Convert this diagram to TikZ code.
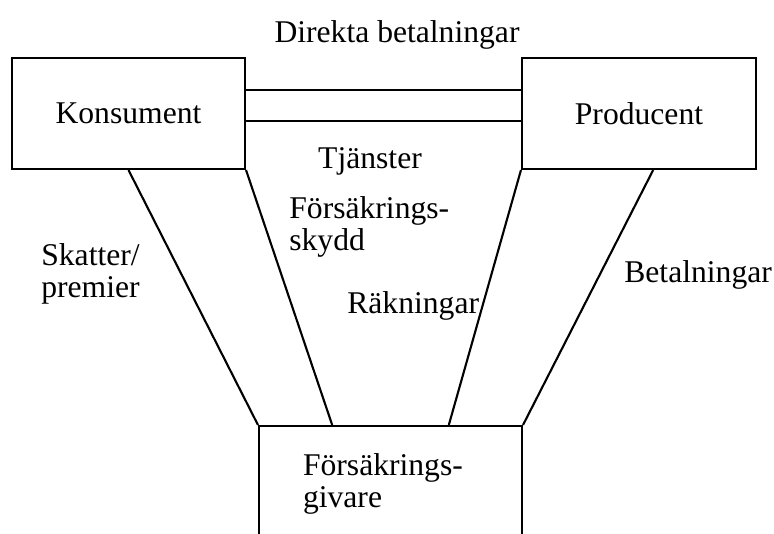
\documentclass[tikz,border=0pt]{standalone}
\usepackage{fontspec}
\setmainfont{Liberation Serif}
\usetikzlibrary{positioning,calc}

\begin{document}
\begin{tikzpicture}[
    x=0.02cm, y=-0.02cm,
    font=\fontsize{18}{17.8}\selectfont,
    box/.style={
        draw,
        line width=1.2pt,
        minimum width=4.66cm,
        minimum height=2.22cm
    },
    link/.style={line width=1.2pt},
    lbl/.style={inner sep=0pt, align=left}
]
\useasboundingbox (0,0) rectangle (774,534);

% ============================================================
% AKTORER
% ============================================================
\node[box] (kons) at (128.5,113.5) {Konsument};
\node[box, minimum width=4.68cm] (prod) at (639,113.5) {Producent};
\node[box, minimum width=5.26cm, minimum height=2.32cm,
      text width=3.5cm, align=left, inner xsep=0.87cm] (forsg) at (390.5,484)
      {Försäkrings-\\givare};

% ============================================================
% FLÖDEN
% ============================================================
\coordinate (top1) at ($(kons.north east)!0.29!(kons.south east)$);
\coordinate (top2) at ($(kons.north east)!0.57!(kons.south east)$);
\draw[link] (top1) -- (top1 -| prod.west);
\draw[link] (top2) -- (top2 -| prod.west);

\draw[link] (kons.south) -- (forsg.north west);
\draw[link] (kons.south east) -- ($(forsg.north west)!0.28!(forsg.north east)$);
\draw[link] (prod.south west) -- ($(forsg.north west)!0.72!(forsg.north east)$);
\draw[link] ($(prod.south west)!0.56!(prod.south east)$) -- (forsg.north east);

% ============================================================
% ETIKETTER (base = sista raden)
% ============================================================
\node[lbl, anchor=base] (direkt) at (397,42) {Direkta betalningar};
\node[lbl, anchor=base] (tjanst) at (370,168) {Tjänster};
\node[lbl, anchor=base west] (skydd) at (289,250) {Försäkrings-\\skydd};
\node[lbl, anchor=base west] (skatt) at (41,297) {Skatter/\\premier};
\node[lbl, anchor=base west] (rakn) at (347,313) {Räkningar};
\node[lbl, anchor=base west] (betal) at (624,282) {Betalningar};

\end{tikzpicture}
\end{document}
